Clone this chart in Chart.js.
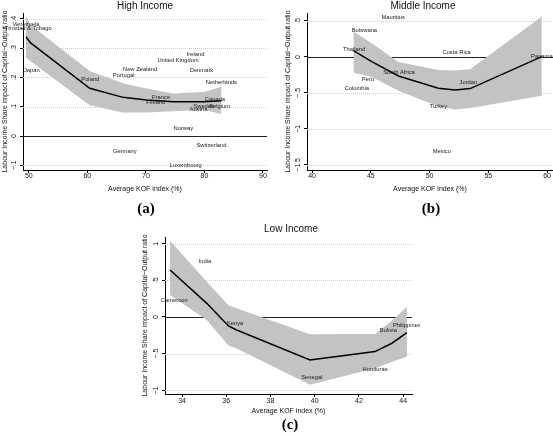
<!DOCTYPE html>
<html>
<head>
<meta charset="utf-8">
<script src="https://cdn.jsdelivr.net/npm/chart.js@4.4.1/dist/chart.umd.min.js"></script>
<style>
  html, body { margin: 0; padding: 0; background: #fff; }
  #wrap { position: relative; width: 553px; height: 435px; overflow: hidden; background: #fff; }
  #wrap canvas { position: absolute; }
  .tag { position: absolute; font: bold 15px "Liberation Serif", "DejaVu Serif", serif; color: #000; transform: translate(-50%, -50%); }
</style>
</head>
<body>
<div id="wrap">
  <canvas id="panelA" width="275" height="200" style="left:0;top:0;width:275px;height:200px"></canvas>
  <canvas id="panelB" width="278" height="200" style="left:275px;top:0;width:278px;height:200px"></canvas>
  <canvas id="panelC" width="290" height="198" style="left:130px;top:220px;width:290px;height:198px"></canvas>
  <div class="tag" style="left:146px;top:208px">(a)</div>
  <div class="tag" style="left:431px;top:208px">(b)</div>
  <div class="tag" style="left:290px;top:424px">(c)</div>
</div>
<script>
// ---- High income ----
var hiX     = [49.5, 50.3, 60.4, 66.1, 70.1, 74.7, 79.9, 82.9];
var hiFit   = [0.339, 0.318, 0.163, 0.132, 0.123, 0.117, 0.117, 0.120];
var hiUpper = [0.41, 0.379, 0.222, 0.18, 0.162, 0.145, 0.15, 0.167];
var hiLower = [0.268, 0.255, 0.105, 0.08, 0.08, 0.085, 0.09, 0.075];
var hiNames = ['Venezuela', 'Trinidad & Tobago', 'Japan', 'Poland', 'Portugal', 'New Zealand', 'United Kingdom', 'Ireland',
  'Denmark', 'Netherlands', 'France', 'Finland', 'Canada', 'Sweden', 'Belgium', 'Austria', 'Norway', 'Switzerland', 'Germany', 'Luxembourg'];
var hiNameX = [49.5, 49.9, 50.5, 60.5, 66.2, 69.0, 75.5, 78.5, 79.5, 82.9, 72.6, 71.7, 81.8, 79.9, 82.6, 79.0, 76.4, 81.2, 66.4, 76.8];
var hiNameY = [0.38, 0.368, 0.225, 0.195, 0.207, 0.229, 0.258, 0.277, 0.225, 0.182, 0.131, 0.115, 0.124, 0.101, 0.100, 0.091, 0.025, -0.033, -0.051, -0.099];
var hiXTicks = [50, 60, 70, 80, 90];
var hiYTicks = [-0.1, 0, 0.1, 0.2, 0.3, 0.4];
var hiYLabels = ['\u2212.1', '0', '.1', '.2', '.3', '.4'];

// ---- Middle income ----
var midX     = [43.52, 45.08, 47.35, 50.75, 52.17, 53.45, 59.55];
var midFit   = [0.088, -0.065, -0.264, -0.435, -0.458, -0.44, 0.004];
var midUpper = [0.352, 0.19, -0.07, -0.18, -0.19, -0.17, 0.56];
var midLower = [-0.218, -0.28, -0.47, -0.69, -0.73, -0.71, -0.54];
var midNames = ['Mauritius', 'Botswana', 'Thailand', 'Costa Rica', 'Panama', 'South Africa', 'Peru', 'Colombia', 'Jordan', 'Turkey', 'Mexico'];
var midNameX = [46.9, 44.45, 43.57, 52.3, 59.55, 47.4, 44.74, 43.8, 53.3, 50.75, 51.04];
var midNameY = [0.546, 0.366, 0.111, 0.06, 0.004, -0.213, -0.31, -0.435, -0.35, -0.68, -1.315];
var midXTicks = [40, 45, 50, 55, 60];
var midYTicks = [-1.5, -1, -0.5, 0, 0.5];
var midYLabels = ['\u22121.5', '\u22121', '\u2212.5', '0', '.5'];

// ---- Low income ----
var lowX     = [33.46, 35.12, 36.1, 36.47, 39.79, 42.73, 43.49, 44.17];
var lowFit   = [0.64, 0.186, -0.122, -0.177, -0.585, -0.472, -0.358, -0.213];
var lowUpper = [1.04, 0.48, 0.16, 0.12, -0.236, -0.231, -0.05, 0.14];
var lowLower = [0.3, -0.04, -0.39, -0.43, -0.925, -0.70, -0.615, -0.54];
var lowNames = ['India', 'Cameroon', 'Kenya', 'Senegal', 'Honduras', 'Bolivia', 'Philippines'];
var lowNameX = [35.04, 33.65, 36.4, 39.87, 42.73, 43.33, 44.17];
var lowNameY = [0.762, 0.222, -0.086, -0.82, -0.712, -0.186, -0.118];
var lowXTicks = [34, 36, 38, 40, 42, 44];
var lowYTicks = [-1, -0.5, 0, 0.5, 1];
var lowYLabels = ['\u22121', '\u2212.5', '0', '.5', '1'];

var Y_TITLE = 'Labour Income Share impact of Capital\u2212Output ratio';
var X_TITLE = 'Average KOF index (%)';
var FONT = '"Liberation Sans", Arial, sans-serif';

function xy(xs, ys) {
  return xs.map(function (x, i) { return { x: x, y: ys[i] }; });
}

var stataPlugin = {
  id: 'stata',
  beforeDatasetsDraw: function (chart, args, o) {
    var ctx = chart.ctx, a = chart.chartArea, ys = chart.scales.y;
    ctx.save();
    o.yTicks.forEach(function (v) {
      var py = Math.round(ys.getPixelForValue(v)) + 0.5;
      ctx.beginPath();
      if (v === 0) {
        ctx.setLineDash([]);
        ctx.strokeStyle = '#222';
      } else {
        ctx.setLineDash([1, 1]);
        ctx.strokeStyle = '#cfcfcf';
      }
      ctx.lineWidth = 1;
      ctx.moveTo(a.left, py);
      ctx.lineTo(a.right, py);
      ctx.stroke();
    });
    ctx.restore();
  },
  afterDatasetsDraw: function (chart, args, o) {
    var ctx = chart.ctx, xs = chart.scales.x, ys = chart.scales.y;
    ctx.save();
    ctx.fillStyle = '#1a1a1a';
    ctx.font = '5.8px ' + FONT;
    ctx.textAlign = 'center';
    ctx.textBaseline = 'middle';
    o.names.forEach(function (n, i) {
      ctx.fillText(n, xs.getPixelForValue(o.nameX[i]), ys.getPixelForValue(o.nameY[i]));
    });
    ctx.restore();
  },
  afterDraw: function (chart, args, o) {
    var ctx = chart.ctx, a = chart.chartArea, xs = chart.scales.x, ys = chart.scales.y;
    ctx.save();
    ctx.fillStyle = '#111';
    // title
    ctx.font = '10px ' + FONT;
    ctx.textAlign = 'center';
    ctx.textBaseline = 'alphabetic';
    ctx.fillText(o.title, o.titleX, o.titleY);
    // x tick labels + axis title
    ctx.font = '7px ' + FONT;
    ctx.textBaseline = 'middle';
    o.xTicks.forEach(function (v) {
      ctx.fillText(String(v), xs.getPixelForValue(v), a.bottom + o.xLabelGap);
    });
    ctx.fillText(X_TITLE, (a.left + a.right) / 2, a.bottom + o.xTitleGap);
    // y tick labels (vertical, Stata style) + axis title
    o.yTicks.forEach(function (v, i) {
      ctx.save();
      ctx.translate(a.left - 9, ys.getPixelForValue(v));
      ctx.rotate(-Math.PI / 2);
      ctx.fillText(o.yLabels[i], 0, 0);
      ctx.restore();
    });
    ctx.translate(a.left - o.yTitleGap, (a.top + a.bottom) / 2);
    ctx.rotate(-Math.PI / 2);
    ctx.fillText(Y_TITLE, 0, 0);
    ctx.restore();
  }
};

function makePanel(id, p) {
  // dataset 0 is drawn last (on top): fitted line, then the CI band below it
  return new Chart(document.getElementById(id), {
    type: 'line',
    data: {
      datasets: [
        { data: xy(p.x, p.fit), borderColor: '#000', borderWidth: 1.5, pointRadius: 0, fill: false, tension: 0 },
        { data: xy(p.x, p.lower), borderColor: 'rgba(0,0,0,0)', borderWidth: 0, pointRadius: 0, fill: false },
        { data: xy(p.x, p.upper), borderColor: 'rgba(0,0,0,0)', borderWidth: 0, pointRadius: 0, fill: 1, backgroundColor: '#c3c3c3' }
      ]
    },
    options: {
      responsive: false,
      animation: false,
      events: [],
      layout: { padding: p.pad },
      plugins: {
        legend: { display: false },
        tooltip: { enabled: false },
        stata: {
          title: p.title, titleX: p.titleX, titleY: p.titleY,
          names: p.names, nameX: p.nameX, nameY: p.nameY,
          xTicks: p.xTicks, yTicks: p.yTicks, yLabels: p.yLabels,
          xLabelGap: p.xLabelGap, xTitleGap: p.xTitleGap, yTitleGap: p.yTitleGap
        }
      },
      scales: {
        x: {
          type: 'linear', min: p.xMin, max: p.xMax,
          afterBuildTicks: function (s) { s.ticks = p.xTicks.map(function (v) { return { value: v }; }); },
          afterFit: function (s) { s.height = p.xAxisH; },
          ticks: { display: false },
          grid: { drawOnChartArea: false, drawTicks: true, tickLength: 3, tickColor: '#000', tickWidth: 1 },
          border: { display: true, color: '#000', width: 1 }
        },
        y: {
          type: 'linear', min: p.yMin, max: p.yMax,
          afterBuildTicks: function (s) { s.ticks = p.yTicks.map(function (v) { return { value: v }; }); },
          afterFit: function (s) { s.width = p.yAxisW; },
          ticks: { display: false },
          grid: { drawOnChartArea: false, drawTicks: true, tickLength: 3, tickColor: '#000', tickWidth: 1 },
          border: { display: true, color: '#000', width: 1 }
        }
      }
    },
    plugins: [stataPlugin]
  });
}

makePanel('panelA', {
  x: hiX, fit: hiFit, upper: hiUpper, lower: hiLower,
  names: hiNames, nameX: hiNameX, nameY: hiNameY,
  xTicks: hiXTicks, yTicks: hiYTicks, yLabels: hiYLabels,
  xMin: 49, xMax: 90.7, yMin: -0.116, yMax: 0.42,
  title: 'High Income', titleX: 145, titleY: 8.5,
  pad: { left: 0, right: 8, top: 13, bottom: 0 }, yAxisW: 23, xAxisH: 30,
  xLabelGap: 6.5, xTitleGap: 19, yTitleGap: 18
});

makePanel('panelB', {
  x: midX, fit: midFit, upper: midUpper, lower: midLower,
  names: midNames, nameX: midNameX, nameY: midNameY,
  xTicks: midXTicks, yTicks: midYTicks, yLabels: midYLabels,
  xMin: 39.57, xMax: 60.5, yMin: -1.57, yMax: 0.61,
  title: 'Middle Income', titleX: 148, titleY: 8.5,
  pad: { left: 0, right: 0, top: 13, bottom: 0 }, yAxisW: 32, xAxisH: 30,
  xLabelGap: 6.5, xTitleGap: 19, yTitleGap: 19
});

makePanel('panelC', {
  x: lowX, fit: lowFit, upper: lowUpper, lower: lowLower,
  names: lowNames, nameX: lowNameX, nameY: lowNameY,
  xTicks: lowXTicks, yTicks: lowYTicks, yLabels: lowYLabels,
  xMin: 33.23, xMax: 44.4, yMin: -1.05, yMax: 1.09,
  title: 'Low Income', titleX: 161, titleY: 12,
  pad: { left: 0, right: 8, top: 17, bottom: 0 }, yAxisW: 35, xAxisH: 24,
  xLabelGap: 7.5, xTitleGap: 17, yTitleGap: 20
});
</script>
</body>
</html>
